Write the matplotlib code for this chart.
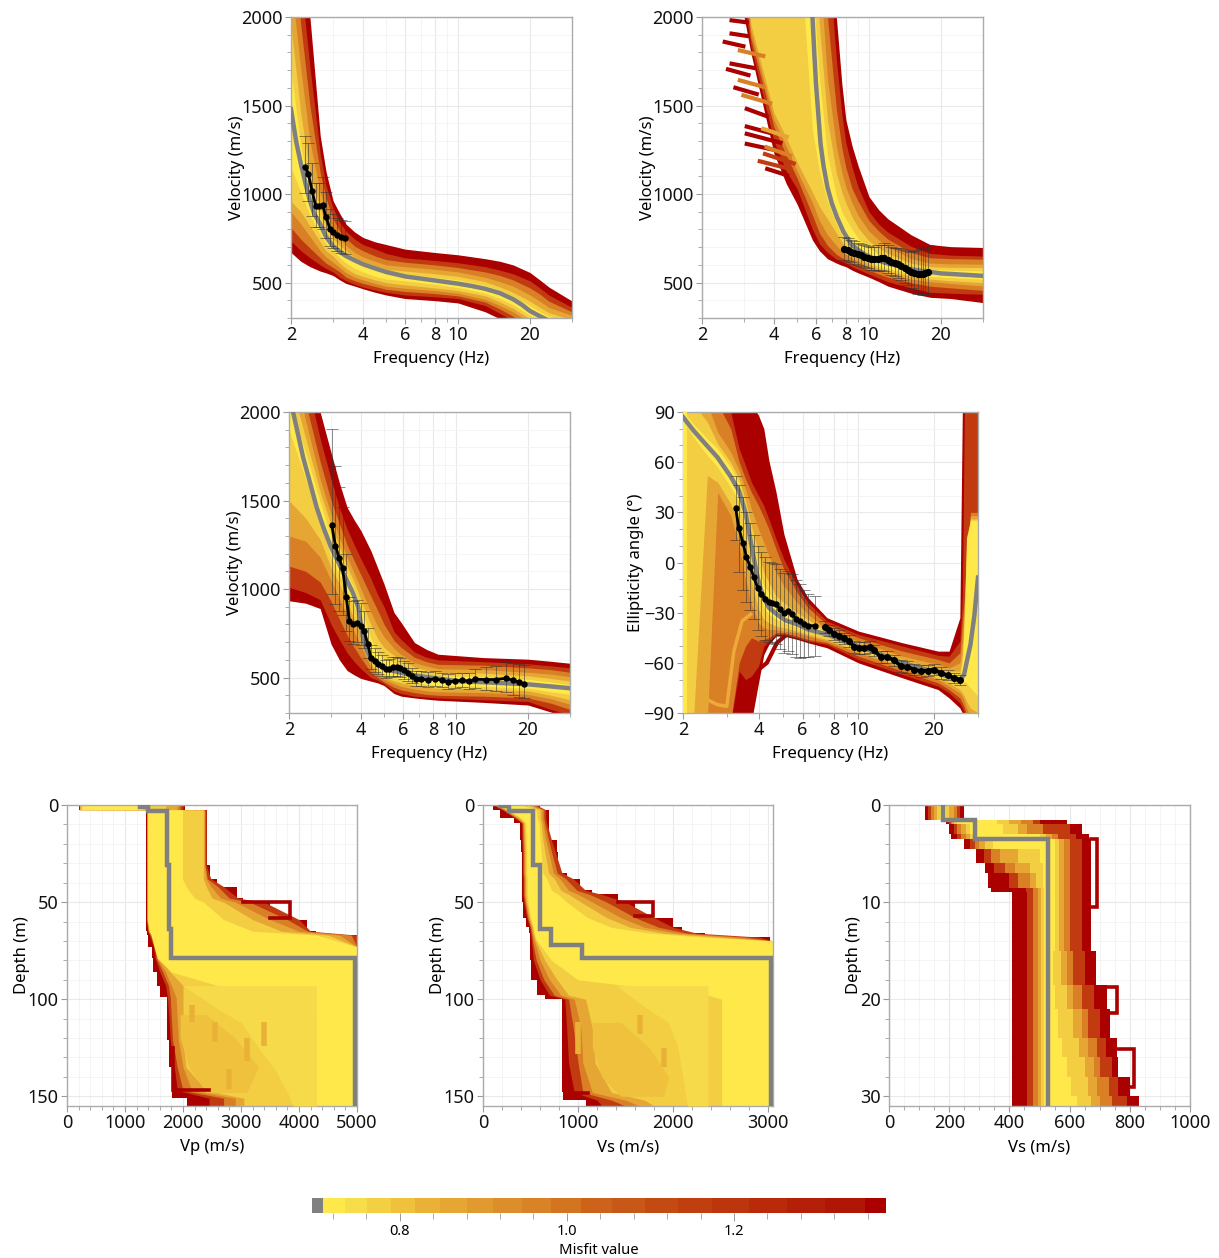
import matplotlib
matplotlib.use('Agg')
import matplotlib.pyplot as plt
import numpy as np
from matplotlib.ticker import FixedLocator, FixedFormatter, NullFormatter

plt.rcParams['font.family'] = ['Noto Sans', 'DejaVu Sans']

WIDTH, HEIGHT = 1219, 1258

# misfit levels, outermost (worst) first
LEVEL_COLORS = ['#AA0000', '#C23A0F', '#D97F26', '#E6A634', '#F3CE42', '#FFE94A']
GREY = '#808080'

# ---- dispersion curve A
A_F = [2, 2.2, 2.4, 2.65, 2.8, 3, 3.2, 3.4, 3.7, 4, 4.5, 5, 6, 8, 10, 13, 15, 17, 20, 22, 24, 30]
A_HI = [
    [3200, 2500, 2000, 1330, 1130, 962, 890, 830, 785, 755, 730, 715, 689, 670, 657, 635, 620, 600, 557, 515, 475, 396],
    [2900, 2200, 1720, 1230, 1050, 920, 840, 790, 745, 715, 690, 665, 640, 625, 612, 590, 570, 550, 510, 470, 430, 360],
    [2500, 1950, 1500, 1120, 980, 860, 790, 750, 705, 680, 650, 630, 615, 600, 585, 560, 540, 515, 470, 435, 395, 335],
    [2200, 1700, 1300, 1010, 900, 800, 745, 710, 670, 645, 620, 600, 590, 575, 560, 530, 505, 480, 430, 395, 360, 315],
    [1950, 1450, 1120, 920, 820, 750, 710, 680, 640, 620, 595, 575, 565, 550, 535, 505, 475, 445, 395, 360, 330, 290],
    [1700, 1270, 1020, 860, 770, 725, 685, 655, 625, 610, 580, 560, 550, 530, 515, 485, 455, 420, 370, 335, 310, 270],
]
A_LO = [
    [670, 620, 590, 565, 555, 540, 515, 495, 480, 465, 445, 430, 410, 398, 385, 335, 295, 255, 210, 190, 165, 130],
    [735, 680, 640, 600, 580, 560, 530, 510, 490, 475, 458, 445, 430, 420, 410, 370, 325, 285, 235, 215, 185, 150],
    [810, 745, 695, 640, 610, 585, 560, 530, 510, 495, 478, 462, 450, 438, 425, 390, 350, 310, 255, 230, 200, 160],
    [900, 830, 760, 680, 645, 615, 585, 555, 530, 515, 495, 480, 468, 455, 440, 405, 370, 335, 275, 245, 220, 180],
    [960, 900, 820, 730, 680, 650, 610, 580, 550, 535, 515, 500, 487, 470, 455, 425, 390, 355, 295, 265, 240, 200],
    [1150, 1010, 880, 770, 720, 680, 640, 610, 580, 560, 535, 520, 510, 490, 472, 440, 410, 375, 315, 285, 260, 220],
]
A_BEST_F = [2, 2.1, 2.2, 2.3, 2.4, 2.5, 2.65, 2.8, 3, 3.2, 3.4, 3.7, 4, 4.5, 5, 6, 8, 10, 11.5, 13, 15, 17, 18.5, 20, 22, 24, 30]
A_BEST_V = [1480, 1300, 1170, 1060, 962, 890, 830, 760, 705, 675, 650, 625, 604, 580, 560, 535, 512, 494, 480, 465, 440, 406, 375, 340, 310, 285, 240]
A_PICK_F = [2.284, 2.367, 2.452, 2.54, 2.62, 2.71, 2.80, 2.91, 3.01, 3.11, 3.23, 3.36]
A_PICK_V = [1155, 1113, 1015, 930, 930, 938, 872, 805, 786, 767, 757, 750]
A_PICK_ERR = [1.15, 1.16, 1.16, 1.14, 1.14, 1.17, 1.16, 1.14, 1.13, 1.13, 1.13, 1.13]

# ---- dispersion curve B
B_F = [2.6, 3, 3.2, 4, 4.5, 5, 5.8, 6.2, 6.7, 7.3, 7.7, 8, 8.5, 9, 10, 11, 12, 15, 18, 22, 30]
B_HI = [
    [3500] * 8 + [3000, 2000, 1620, 1420, 1270, 1160, 985, 910, 860, 770, 715, 703, 698],
    [3500] * 8 + [2400, 1760, 1450, 1290, 1150, 1040, 900, 830, 785, 705, 665, 655, 650],
    [3500] * 7 + [3000, 2000, 1480, 1260, 1150, 1030, 960, 850, 790, 745, 670, 640, 635, 632],
    [3500] * 6 + [3200, 2300, 1650, 1270, 1120, 1040, 950, 880, 790, 740, 700, 635, 610, 606, 604],
    [3500] * 6 + [2600, 1950, 1420, 1120, 1010, 950, 870, 810, 735, 695, 665, 610, 590, 586, 585],
    [3500] * 5 + [3000, 2200, 1650, 1220, 990, 900, 860, 800, 750, 695, 660, 635, 590, 575, 570, 566],
]
B_LO = [
    [2600, 2000, 1800, 1230, 1060, 943, 740, 680, 635, 610, 597, 590, 570, 555, 530, 505, 480, 440, 417, 410, 387],
    [3500, 2100, 1840, 1300, 1130, 1030, 800, 720, 670, 632, 620, 610, 590, 575, 548, 525, 505, 470, 445, 440, 434],
    [3500, 2200, 1880, 1380, 1220, 1090, 880, 780, 710, 660, 640, 630, 610, 595, 570, 548, 530, 500, 480, 470, 456],
    [3500, 2300, 1920, 1420, 1270, 1130, 950, 850, 770, 710, 675, 660, 638, 620, 590, 568, 550, 520, 505, 495, 481],
    [3500, 2400, 1960, 1460, 1320, 1180, 1010, 930, 860, 780, 730, 700, 665, 640, 605, 580, 565, 535, 520, 510, 500],
    [3500, 3500, 3500, 3500, 3500, 2600, 1360, 1130, 960, 830, 765, 730, 690, 660, 620, 595, 580, 550, 535, 528, 519],
]
B_BEST_F = [5.8, 5.9, 6.0, 6.27, 6.45, 6.7, 7, 7.35, 7.8, 8.4, 9, 9.56, 10.5, 11.6, 15, 20, 30]
B_BEST_V = [2000, 1800, 1623, 1283, 1160, 1038, 945, 868, 790, 717, 685, 660, 635, 613, 575, 552, 538]
B_STUB_F = [[2.66, 3.08], [2.66, 3.08], [2.49, 2.98], [2.88, 3.61], [2.66, 3.28], [2.57, 3.13], [2.88, 3.61], [2.76, 3.39], [2.98, 3.86],
            [3.08, 3.73], [3.08, 3.86], [3.61, 4.54], [3.08, 4.26], [3.08, 4.12], [3.73, 4.68], [3.67, 4.84], [3.49, 4.68], [3.75, 4.54]]
B_STUB_V = [[1981, 1970], [1906, 1893], [1859, 1835], [1811, 1780], [1736, 1713], [1704, 1672], [1642, 1606], [1600, 1565], [1557, 1513],
            [1481, 1440], [1381, 1345], [1368, 1324], [1340, 1290], [1283, 1246], [1264, 1217], [1226, 1173], [1185, 1142], [1142, 1106]]
B_STUB_LEVEL = [0, 0, 0, 2, 0, 0, 2, 0, 2, 0, 0, 3, 0, 0, 2, 1, 1, 0]
B_PICK_F = [7.87, 8.13, 8.40, 8.68, 8.96, 9.26, 9.56, 9.88, 10.2, 10.5, 10.88, 11.2, 11.6, 12, 12.4, 12.8, 13.2, 13.65, 14.1, 14.55, 15, 15.5, 16.06, 16.45, 16.85, 17.2, 17.6]
B_PICK_V = [689, 682, 675, 668, 660, 653, 647, 640, 632, 633, 636, 637, 638, 628, 617, 610, 604, 595, 585, 573, 562, 554, 547, 546, 547, 553, 560]
B_PICK_ERR = [1.10, 1.10, 1.10, 1.10, 1.10, 1.10, 1.10, 1.10, 1.11, 1.11, 1.12, 1.12, 1.13, 1.13, 1.14, 1.14, 1.15, 1.16, 1.17, 1.18, 1.20, 1.22, 1.25, 1.26, 1.27, 1.27, 1.27]

# ---- dispersion curve C
C_F = [2, 2.35, 2.7, 3, 3.25, 3.5, 3.75, 4, 4.4, 4.7, 5, 5.5, 5.9, 6.7, 7.5, 8.4, 13, 20, 25, 30]
C_HI = [
    [2900, 2400, 2000, 1770, 1600, 1462, 1390, 1330, 1217, 1120, 1028, 868, 810, 698, 660, 632, 613, 604, 592, 581],
    [2700, 2200, 1850, 1620, 1460, 1340, 1250, 1170, 1060, 970, 900, 760, 715, 645, 615, 600, 590, 578, 566, 555],
    [2500, 2050, 1720, 1500, 1370, 1250, 1160, 1080, 960, 880, 800, 710, 670, 615, 590, 575, 570, 555, 545, 530],
    [2350, 1950, 1620, 1420, 1290, 1180, 1090, 1000, 870, 790, 730, 665, 630, 585, 565, 550, 545, 530, 520, 505],
    [2200, 1850, 1550, 1360, 1240, 1130, 1040, 940, 800, 720, 670, 625, 600, 560, 542, 530, 525, 510, 495, 480],
    [2050, 1770, 1490, 1300, 1190, 1090, 1000, 900, 720, 640, 610, 585, 565, 535, 520, 510, 505, 490, 475, 460],
]
C_LO = [
    [934, 920, 890, 689, 600, 540, 515, 495, 480, 470, 455, 410, 395, 385, 378, 372, 360, 345, 305, 270],
    [1010, 980, 940, 800, 715, 640, 590, 550, 500, 485, 465, 425, 410, 395, 390, 385, 375, 365, 320, 290],
    [1130, 1100, 1040, 930, 830, 740, 670, 610, 530, 500, 475, 445, 430, 415, 405, 400, 395, 385, 355, 320],
    [1300, 1270, 1180, 1050, 950, 850, 760, 680, 560, 515, 490, 465, 450, 435, 425, 420, 415, 405, 380, 350],
    [1500, 1400, 1280, 1120, 1030, 930, 830, 740, 580, 530, 505, 480, 470, 455, 445, 440, 435, 425, 400, 375],
    [1900, 1620, 1380, 1180, 1080, 990, 900, 800, 610, 550, 520, 500, 490, 475, 462, 455, 450, 440, 420, 405],
]
C_BEST_F = [2.08, 2.29, 2.45, 2.61, 2.8, 3, 3.25, 3.5, 3.7, 3.9, 4, 4.1, 4.25, 4.4, 4.7, 5.1, 6, 7, 10, 20, 30]
C_BEST_V = [2000, 1745, 1600, 1462, 1340, 1236, 1140, 1047, 980, 896, 800, 708, 650, 613, 575, 547, 525, 509, 481, 462, 440]
C_PICK_F = [3.02, 3.13, 3.24, 3.35, 3.47, 3.58, 3.71, 3.85, 3.99, 4.13, 4.27, 4.41, 4.57, 4.72, 4.89, 5.07, 5.26, 5.45, 5.65, 5.85, 6.07, 6.29, 6.54, 6.8, 7.16, 7.64, 8.16, 8.70, 9.29, 9.92, 10.6, 11.3, 12.06, 13.3, 14.65, 16.16, 17.25, 18.4, 19.2]
C_PICK_V = [1359, 1245, 1176, 1119, 957, 821, 802, 811, 792, 764, 689, 613, 594, 579, 566, 547, 551, 560, 560, 553, 542, 528, 509, 494, 491, 487, 494, 485, 475, 481, 485, 479, 491, 489, 489, 496, 485, 475, 466]
C_PICK_ERR = [1.40, 1.36, 1.34, 1.31, 1.25, 1.16, 1.16, 1.16, 1.16, 1.15, 1.13, 1.12, 1.12, 1.11, 1.11, 1.10, 1.10, 1.10, 1.10, 1.10, 1.10, 1.10, 1.09, 1.09, 1.09, 1.09, 1.09, 1.09, 1.09, 1.09, 1.09, 1.10, 1.12, 1.14, 1.16, 1.18, 1.20, 1.22, 1.22]

# ---- ellipticity curve D
D_F = [2, 2.2, 2.5, 2.75, 3.1, 3.35, 3.55, 3.75, 4, 4.2, 4.4, 4.7, 5.05, 5.7, 6.3, 7.5, 10, 15, 20.8, 23, 25.4, 26, 26.5, 27, 28, 30]
D_HI = [
    [95, 95, 95, 95, 95, 95, 95, 95, 88, 80, 61, 42, 17, -10, -21, -33, -41, -48, -53, -53, -33, 95, 95, 95, 95, 95],
    [95, 95, 95, 95, 90, 68, 58, 48, 40, 34, 26, 14, 2, -14, -24, -35, -43, -50, -55.5, -56, -47, -20, 95, 95, 95, 95],
    [95, 95, 95, 95, 80, 60, 50, 42, 34, 27, 20, 8, -4, -18, -27, -37, -45, -53, -58, -60, -54, -35, -20, -10, 30, 30],
    [95, 95, 95, 78, 66, 55, 44, 32, 20, 12, 4, -6, -14, -24, -31, -40, -47, -56, -61, -63, -60, -48, -25, 10, 28, 28],
    [95, 95, 84, 71, 60, 50, 37, 22, 6, -6, -12, -20, -24, -30, -34, -41, -48, -58, -64, -65, -65, -55, -38, -8, 26, 26],
    [90, 83, 74, 68, 57, 47, 33, 17, -3, -14, -18, -25, -28, -33, -36, -42, -49, -59, -65, -66, -68, -60, -30, 15, 25, 25],
]
D_LO = [
    [-95] * 8 + [-72, -55, -49, -44, -44, -46, -48, -51, -60, -69, -76, -81, -87, -90, -95, -95, -95, -95],
    [-95] * 5 + [-65, -70, -68, -62, -50, -47, -43, -43, -45, -47, -49, -58, -67, -74, -78, -84, -87, -90, -95, -95, -95],
    [-95] * 5 + [-60, -50, -45, -47, -46, -45, -42, -42, -44, -46, -48, -56, -65, -72, -76, -81, -84, -87, -91, -95, -95],
    [-95] * 3 + [42, 28, 10, -10, -25, -36, -39, -40, -40, -41, -42, -44, -47, -54, -63, -70, -74, -78, -80, -83, -87, -92, -95],
    [-95, -95, 52, 48, 35, 22, 5, -12, -28, -34, -36, -38, -39, -41, -43, -46, -53, -62, -69, -72, -76, -78, -80, -83, -87, -90],
    [85, 75, 64, 57, 45, 36, 20, 4, -17, -27, -31, -34, -36, -39, -41, -44, -51, -61, -67, -69, -72, -73, -71, -72, -75, -80],
]
D_YELLOW_STRIP = [2, 2.07]
D_BEST_F = [2, 2.2, 2.42, 2.74, 3.08, 3.34, 3.45, 3.56, 3.72, 3.85, 3.97, 4.08, 4.2, 4.4, 4.74, 5.1, 5.7, 6.3, 7.5, 10, 15, 20.8, 24, 25.4, 26.4, 27, 28, 29, 30]
D_BEST_A = [87, 79, 72, 63, 52, 43, 36, 29, 13, 1, -9, -16, -21, -27, -31, -34.5, -37, -40, -43, -50, -60, -66, -69.5, -70.6, -67, -60, -49, -32, -9]
D_ARC_F = [4.08, 4.32, 4.74, 5.1]
D_ARC_A = [-63, -60, -48, -44]
D_STRAND_F = [2.42, 2.74, 2.99, 3.19, 3.44, 3.72]
D_STRAND_A = [-81, -85, -86, -53, -35, -31]
D_PICK1_F = [3.24, 3.34, 3.47, 3.58, 3.70, 3.83, 3.97, 4.10, 4.25, 4.40, 4.53, 4.71, 4.87, 5.05, 5.24, 5.44, 5.64, 5.85, 6.07, 6.30, 6.70]
D_PICK1_A = [32.6, 20.6, 11.4, 3.4, -2.4, -8.6, -15.4, -19, -21.6, -23.6, -24.4, -25, -28, -30.4, -29, -31, -33.6, -35, -36.6, -37.8, -37.8]
D_PICK1_ERR = [19.4, 26, 28, 27, 26, 25, 25, 25, 25, 24, 24, 24, 24, 24, 24, 24, 23, 22, 20, 19, 18]
D_PICK2_F = [7.36, 7.64, 8.0, 8.38, 8.77, 9.18, 9.62, 10.07, 10.54, 11.15, 11.56, 12.3, 13.07, 13.9, 14.8, 15.7, 16.7, 17.75, 18.9, 20.08, 21.3, 22.7, 24.1, 25.5]
D_PICK2_A = [-38.4, -40.6, -42.6, -44, -45.4, -47, -50.4, -51.2, -51, -50.4, -52.6, -56.6, -56.6, -58.6, -62, -62.4, -64, -65, -64.6, -64, -66, -67.4, -69, -70]
D_PICK2_ERR = [3.5, 3.5, 3.5, 3.5, 3.5, 3.5, 3.5, 3.5, 3.5, 3.5, 3.5, 3.5, 3.5, 3.5, 3.5, 3.5, 3.5, 3.5, 3.5, 3.5, 3.5, 3, 3, 3]

# ---- Vp profile E
E_D = [0, 2.4, 2.5, 31, 38, 42, 48, 50, 59, 65, 67, 73, 79, 86, 93, 99, 110, 121, 135, 147, 151, 155]
E_HI = [
    [2040, 2040, 2420, 2470, 2580, 2930, 3040, 3500, 4130, 4300] + [5000] * 12,
    [2000, 2000, 2400, 2400, 2480, 2700, 2950, 3400, 4000, 4200] + [5000] * 12,
    [1950, 1950, 2380, 2380, 2420, 2600, 2800, 3150, 3800, 4150, 4900] + [5000] * 11,
    [1900, 1900, 2370, 2370, 2400, 2480, 2650, 2900, 3500, 4000, 4700] + [5000] * 11,
    [1700, 1700, 2350, 2350, 2350, 2400, 2500, 2700, 3200, 3700, 4500] + [5000] * 11,
    [1300, 1300, 1990, 1990, 1990, 2050, 2200, 2350, 2700, 3200, 4300] + [5000] * 11,
]
E_LO = [
    [200, 200] + [1360] * 7 + [1380, 1400, 1460, 1490, 1550, 1610, 1720, 1730, 1750, 1810, 1810, 2070, 2070],
    [210, 210] + [1370] * 7 + [1390, 1420, 1490, 1520, 1600, 1700, 1730, 1760, 1780, 1850, 1900, 2450, 2450],
    [215, 215] + [1375] * 7 + [1400, 1440, 1510, 1540, 1650, 1750, 1780, 1800, 1820, 1900, 2000, 2700, 2700],
    [220, 220] + [1380] * 7 + [1410, 1460, 1530, 1560, 1700, 1800, 1880, 1900, 1920, 2000, 2150, 2900, 2900],
    [230, 230] + [1385] * 7 + [1420, 1480, 1540, 1600, 1780, 2000, 2000, 2000, 2000, 2050, 2400, 3050, 3050],
    [260, 260] + [1390] * 7 + [1420, 1450, 1500, 1560, 1800, 2600, 4000, 4300, 4300, 4300, 4300, 4300, 4300],
]
E_BEST_V = [1260, 1390, 1730, 1755, 1790, 4965, 4965]
E_BEST_D = [0, 1, 3.3, 31, 64, 79, 155]
E_LOOP_V = [[3040, 3845, 3845, 3500], [1830, 1830, 2450]]
E_LOOP_D = [[50, 50, 58, 58], [125, 147, 147]]
E_LIGHT_D = [93, 105, 112, 125, 137, 148, 155]
E_LIGHT_LO = [2000, 2600, 3000, 3300, 3600, 3800, 3900]
E_LIGHT_HI = [4300, 4300, 4300, 4300, 4300, 4300, 4300]
E_DARK_D = [108, 120, 135, 148]
E_DARK_LO = [1950, 1950, 2100, 2400]
E_DARK_HI = [2400, 2900, 3300, 3100]
E_PATCH_V = [[2150, 2150], [2550, 2550], [3100, 3100], [3400, 3400], [2800, 2800]]
E_PATCH_D = [[103, 112], [112, 122], [120, 132], [112, 124], [136, 146]]

# ---- Vs profile F
F_D = [0, 2.4, 6.7, 9.3, 18, 24, 35, 38, 44, 46, 50, 58, 63, 66, 68, 70, 80, 90, 98, 100, 115, 133, 148, 152, 155]
F_HI = [
    [600, 690, 690, 690, 775, 794, 880, 1020, 1143, 1423, 1600, 2000, 2088, 2330, 3015] + [3050] * 10,
    [560, 660, 660, 670, 720, 760, 830, 950, 1080, 1250, 1500, 1800, 2000, 2250, 2900] + [3050] * 10,
    [530, 640, 640, 650, 690, 720, 780, 870, 990, 1120, 1300, 1600, 1850, 2150, 2750] + [3050] * 10,
    [500, 620, 620, 630, 660, 690, 740, 810, 900, 1000, 1150, 1450, 1700, 2050, 2600] + [3050] * 10,
    [470, 600, 600, 610, 630, 650, 690, 750, 820, 900, 1030, 1300, 1550, 1900, 2450] + [3050] * 10,
    [400, 560, 570, 590, 600, 610, 630, 670, 720, 790, 880, 1100, 1350, 1750, 2300] + [3050] * 10,
]
F_LO = [
    [105, 180, 322, 392, 400, 405, 405, 409, 409, 409, 420, 450, 480, 490, 495, 497, 510, 566, 654, 829, 829, 829, 846, 1080, 1080],
    [115, 200, 335, 405, 410, 415, 415, 420, 420, 420, 430, 460, 490, 500, 505, 510, 530, 600, 700, 860, 880, 900, 960, 1200, 1250],
    [125, 215, 350, 415, 420, 425, 425, 430, 430, 430, 440, 470, 500, 510, 515, 520, 560, 640, 750, 900, 950, 1000, 1050, 1350, 1500],
    [135, 230, 365, 425, 430, 435, 435, 440, 440, 440, 450, 480, 510, 520, 530, 540, 600, 700, 820, 960, 1030, 1050, 1150, 1500, 1650],
    [150, 245, 385, 435, 440, 445, 445, 450, 450, 450, 460, 490, 520, 530, 540, 555, 650, 780, 900, 1080, 1150, 1180, 1350, 1700, 1800],
    [200, 260, 400, 450, 455, 460, 460, 465, 465, 465, 475, 500, 530, 540, 550, 570, 720, 1000, 2370, 2510, 2510, 2510, 2510, 2510, 2510],
]
F_BEST_V = [180, 270, 530, 595, 713, 1045, 3025, 3025]
F_BEST_D = [0, 0.7, 3.2, 31, 64, 72, 79, 155]
F_LOOP_V = [[1423, 1790, 1790, 1600], [880, 880, 1100]]
F_LOOP_D = [[50, 50, 57, 57], [135, 148.5, 148.5]]
F_LIGHT_D = [93, 104, 112, 125, 140, 155]
F_LIGHT_LO = [1400, 1700, 1950, 2050, 2100, 2150]
F_LIGHT_HI = [2367, 2367, 2367, 2367, 2367, 2367]
F_DARK_D = [112, 125, 140, 150]
F_DARK_LO = [1150, 1150, 1250, 1450]
F_DARK_HI = [1450, 1750, 1950, 1900]
F_PATCH_V = [[1000, 1000], [1650, 1650], [1900, 1900]]
F_PATCH_D = [[112, 128], [108, 118], [125, 135]]

# ---- Vs profile G, top 31 m
G_D = [0, 1.5, 2, 3, 3.5, 4.5, 6, 7, 8.5, 9, 15, 18.5, 21, 24, 26, 28, 30, 31]
G_HI = [
    [250, 590, 641, 663, 672, 672, 672, 672, 672, 672, 688, 725, 735, 758, 760, 800, 830, 838],
    [235, 500, 600, 620, 640, 640, 640, 640, 640, 640, 650, 680, 700, 720, 740, 760, 790, 800],
    [225, 480, 510, 560, 600, 600, 600, 600, 600, 600, 610, 640, 660, 690, 700, 730, 740, 745],
    [215, 440, 460, 540, 580, 580, 580, 580, 580, 580, 590, 610, 640, 660, 680, 690, 700, 710],
    [200, 400, 430, 520, 565, 565, 565, 565, 565, 565, 570, 590, 610, 630, 650, 660, 670, 680],
    [190, 360, 380, 500, 550, 550, 550, 550, 550, 550, 545, 550, 560, 575, 590, 605, 625, 640],
]
G_LO = [
    [120, 190, 200, 205, 250, 290, 320, 330, 340] + [408] * 9,
    [130, 200, 215, 225, 270, 315, 350, 400, 455] + [458] * 9,
    [140, 205, 225, 240, 285, 340, 385, 430, 480] + [480] * 9,
    [150, 210, 240, 255, 300, 370, 420, 470, 495] + [495] * 9,
    [160, 215, 255, 270, 320, 430, 470, 490, 505] + [505] * 9,
    [170, 225, 270, 290, 345, 500, 510, 510, 515] + [515] * 9,
]
G_BEST_V = [180, 285, 527, 527]
G_BEST_D = [0, 1.5, 3.5, 31]
G_LOOP_V = [[672, 690, 690, 672], [725, 758, 758, 735], [758, 813, 813, 800]]
G_LOOP_D = [[3.5, 3.5, 10.5, 10.5], [18.7, 18.7, 21.4, 21.4], [25.1, 25.1, 29, 29]]

# ---- colour scale
BAR_EDGES = [0.6950, 0.7086, 0.7346, 0.7611, 0.7895, 0.8187, 0.8485, 0.880, 0.912, 0.9459, 0.981, 1.0172, 1.0538, 1.0936, 1.1333, 1.174, 1.2175, 1.2632, 1.3089, 1.3574, 1.382]
BAR_COLORS = ['#808080', '#FFE94A', '#F8DD4B', '#F3CF44', '#EFC13D', '#E9B237', '#E5A634', '#E09A2F', '#DC8E2B', '#D88326',
              '#D37520', '#CD631A', '#C85817', '#C34A12', '#BF3F0E', '#BC350C', '#B82A0A', '#B41F07', '#B01606', '#AA0000']
BAR_MAJOR = [0.8, 1.0, 1.2]
BAR_MINOR = [0.72, 0.76, 0.84, 0.88, 0.92, 0.96, 1.04, 1.08, 1.12, 1.16, 1.24, 1.28, 1.32, 1.36]

FREQ_MAJOR = [2, 4, 6, 8, 10, 20]
FREQ_MINOR = [3, 5, 7, 9, 30]
VEL_MAJOR = [500, 1000, 1500, 2000]


def add_axes_px(fig, left, right, top, bottom):
    return fig.add_axes([left / WIDTH, 1 - bottom / HEIGHT, (right - left) / WIDTH, (bottom - top) / HEIGHT])


def style_axes(ax):
    ax.set_axisbelow(True)
    ax.grid(which='major', color='#E9E9E9', lw=0.8)
    ax.grid(which='minor', color='#F3F3F3', lw=0.6)
    for spine in ax.spines.values():
        spine.set_color('#ABABAB')
        spine.set_linewidth(1.0)
    ax.tick_params(which='major', length=4, width=0.8, color='#9A9A9A', labelsize=13, pad=2, labelcolor='#111111')
    ax.tick_params(which='minor', length=3, width=0.7, color='#ABABAB')


def curve_axes(fig, box, ymin, ymax, ymajor, yminor, ylabel, ypad=-2.5):
    ax = add_axes_px(fig, *box)
    ax.set_xscale('log')
    ax.set_xlim(2, 30)
    ax.set_ylim(ymin, ymax)
    ax.xaxis.set_major_locator(FixedLocator(FREQ_MAJOR))
    ax.xaxis.set_major_formatter(FixedFormatter([str(f) for f in FREQ_MAJOR]))
    ax.xaxis.set_minor_locator(FixedLocator(FREQ_MINOR))
    ax.xaxis.set_minor_formatter(NullFormatter())
    ax.yaxis.set_major_locator(FixedLocator(ymajor))
    ax.yaxis.set_minor_locator(FixedLocator(yminor))
    style_axes(ax)
    ax.set_xlabel('Frequency (Hz)', fontsize=12, labelpad=5)
    ax.set_ylabel(ylabel, fontsize=12, labelpad=ypad)
    return ax


def draw_bands(ax, f, hi_rows, lo_rows):
    for i, (color, hi, lo) in enumerate(zip(LEVEL_COLORS, hi_rows, lo_rows)):
        ax.fill_between(f, lo, hi, color=color, lw=0, zorder=2 + i * 0.1)


def draw_picks(ax, f, v, err, ratio=True, lw=2, ms=3.6):
    v = np.array(v)
    err = np.array(err)
    if ratio:
        yerr = [v - v / err, v * err - v]
    else:
        yerr = [err, err]
    ax.errorbar(f, v, yerr=yerr, fmt='none', ecolor='#333333', elinewidth=0.4, capsize=4, capthick=0.4, zorder=5)
    ax.plot(f, v, '-o', color='black', lw=lw, ms=ms, zorder=6)


def stairs(values, depths):
    # one value per layer, the last depth closes the profile
    xs = np.repeat(values[:-1], 2)
    ys = np.column_stack([depths[:-1], depths[1:]]).ravel()
    return xs, ys


def profile_axes(fig, box, xmax, xmajor, xminor, ymax, ymajor, yminor, xlabel):
    ax = add_axes_px(fig, *box)
    ax.set_xlim(0, xmax)
    ax.set_ylim(ymax, 0)
    ax.xaxis.set_major_locator(FixedLocator(xmajor))
    ax.xaxis.set_minor_locator(FixedLocator(xminor))
    ax.yaxis.set_major_locator(FixedLocator(ymajor))
    ax.yaxis.set_minor_locator(FixedLocator(yminor))
    style_axes(ax)
    ax.set_xlabel(xlabel, fontsize=12, labelpad=5)
    ax.set_ylabel('Depth (m)', fontsize=12, labelpad=-1.5)
    return ax


def draw_profile(ax, depths, hi_rows, lo_rows, best_v, best_d, loop_v, loop_d, stepped=False):
    for i, (color, hi, lo) in enumerate(zip(LEVEL_COLORS, hi_rows, lo_rows)):
        # the worst models keep their staircase, the others read as a smooth edge
        step = 'post' if (stepped or i == 0) else None
        ax.fill_betweenx(depths, lo, hi, step=step, color=color, lw=0, zorder=2 + i * 0.1)
    for vs, ds in zip(loop_v, loop_d):
        ax.plot(vs, ds, color=LEVEL_COLORS[0], lw=2.6, solid_joinstyle='miter', zorder=3)
    xs, ys = stairs(best_v, best_d)
    ax.plot(xs, ys, color=GREY, lw=3.2, solid_joinstyle='miter', zorder=4)


def draw_shades(ax, light, dark, patch_v, patch_d):
    ax.fill_betweenx(light[0], light[1], light[2], color='#F7DA4A', lw=0, zorder=2.6)
    ax.fill_betweenx(dark[0], dark[1], dark[2], color='#EFC13D', lw=0, zorder=2.7)
    for vs, ds in zip(patch_v, patch_d):
        ax.plot(vs, ds, color='#E9B237', lw=4, solid_capstyle='butt', zorder=2.8)


fig = plt.figure(figsize=(WIDTH / 100, HEIGHT / 100), dpi=100)

vel_minor = [300, 400, 600, 700, 800, 900, 1100, 1200, 1300, 1400, 1600, 1700, 1800, 1900]

ax = curve_axes(fig, (291, 572, 17, 318), 300, 2000, VEL_MAJOR, vel_minor, 'Velocity (m/s)')
draw_bands(ax, A_F, A_HI, A_LO)
ax.plot(A_BEST_F, A_BEST_V, color=GREY, lw=3.2, zorder=4)
draw_picks(ax, A_PICK_F, A_PICK_V, A_PICK_ERR)

ax = curve_axes(fig, (702, 983, 17, 318), 300, 2000, VEL_MAJOR, vel_minor, 'Velocity (m/s)')
draw_bands(ax, B_F, B_HI, B_LO)
for stub_f, stub_v, level in zip(B_STUB_F, B_STUB_V, B_STUB_LEVEL):
    ax.plot(stub_f, stub_v, color=LEVEL_COLORS[level], lw=3, zorder=2.45)
ax.plot(B_BEST_F, B_BEST_V, color=GREY, lw=3.2, zorder=4)
draw_picks(ax, B_PICK_F, B_PICK_V, B_PICK_ERR, lw=3, ms=4.2)

ax = curve_axes(fig, (289, 570, 412, 713), 300, 2000, VEL_MAJOR, vel_minor, 'Velocity (m/s)')
draw_bands(ax, C_F, C_HI, C_LO)
ax.plot(C_BEST_F, C_BEST_V, color=GREY, lw=3.2, zorder=4)
draw_picks(ax, C_PICK_F, C_PICK_V, C_PICK_ERR)

ax = curve_axes(fig, (683, 978, 412, 713), -90, 90, [-90, -60, -30, 0, 30, 60, 90],
                [-80, -70, -50, -40, -20, -10, 10, 20, 40, 50, 70, 80], 'Ellipticity angle (°)', ypad=-0.5)
draw_bands(ax, D_F, D_HI, D_LO)
ax.axvspan(D_YELLOW_STRIP[0], D_YELLOW_STRIP[1], color=LEVEL_COLORS[5], lw=0, zorder=2.6)
ax.plot(D_ARC_F, D_ARC_A, color=LEVEL_COLORS[0], lw=3, zorder=2)
ax.plot(D_STRAND_F, D_STRAND_A, color='#EFA93A', lw=2.5, zorder=2.25)
ax.plot(D_BEST_F, D_BEST_A, color=GREY, lw=3.2, zorder=4)
draw_picks(ax, D_PICK1_F, D_PICK1_A, D_PICK1_ERR, ratio=False)
draw_picks(ax, D_PICK2_F, D_PICK2_A, D_PICK2_ERR, ratio=False, lw=2.6, ms=4)

ax = profile_axes(fig, (67, 357, 805, 1106), 5000, range(0, 5001, 1000),
                  [v for v in range(200, 5000, 200) if v % 1000], 155,
                  [0, 50, 100, 150], [v for v in range(10, 155, 10) if v % 50], 'Vp (m/s)')
draw_profile(ax, E_D, E_HI, E_LO, E_BEST_V, E_BEST_D, E_LOOP_V, E_LOOP_D)
draw_shades(ax, (E_LIGHT_D, E_LIGHT_LO, E_LIGHT_HI), (E_DARK_D, E_DARK_LO, E_DARK_HI), E_PATCH_V, E_PATCH_D)

ax = profile_axes(fig, (483, 773, 805, 1106), 3050, range(0, 3001, 1000),
                  [v for v in range(200, 3050, 200) if v % 1000], 155,
                  [0, 50, 100, 150], [v for v in range(10, 155, 10) if v % 50], 'Vs (m/s)')
draw_profile(ax, F_D, F_HI, F_LO, F_BEST_V, F_BEST_D, F_LOOP_V, F_LOOP_D)
draw_shades(ax, (F_LIGHT_D, F_LIGHT_LO, F_LIGHT_HI), (F_DARK_D, F_DARK_LO, F_DARK_HI), F_PATCH_V, F_PATCH_D)

ax = profile_axes(fig, (889, 1190, 805, 1106), 1000, range(0, 1001, 200),
                  [v for v in range(50, 1000, 50) if v % 200], 31,
                  [0, 10, 20, 30], [v for v in range(2, 31, 2) if v % 10], 'Vs (m/s)')
draw_profile(ax, G_D, G_HI, G_LO, G_BEST_V, G_BEST_D, G_LOOP_V, G_LOOP_D, stepped=True)

# colour scale
cax = add_axes_px(fig, 312, 886, 1198, 1213)
for left, right, color in zip(BAR_EDGES[:-1], BAR_EDGES[1:], BAR_COLORS):
    cax.axvspan(left, right, color=color, lw=0)
cax.set_xlim(BAR_EDGES[0], BAR_EDGES[-1])
cax.set_ylim(0, 1)
cax.set_yticks([])
for spine in cax.spines.values():
    spine.set_visible(False)
cax.xaxis.set_major_locator(FixedLocator(BAR_MAJOR))
cax.xaxis.set_major_formatter(FixedFormatter(['0.8', '1.0', '1.2']))
cax.xaxis.set_minor_locator(FixedLocator(BAR_MINOR))
cax.tick_params(which='major', length=6, width=0.7, color='#9A9A9A', labelsize=10.5, pad=2)
cax.tick_params(which='minor', length=4, width=0.7, color='#ABABAB')
cax.set_xlabel('Misfit value', fontsize=10.7, labelpad=3)

fig.savefig('out.png', dpi=100)
